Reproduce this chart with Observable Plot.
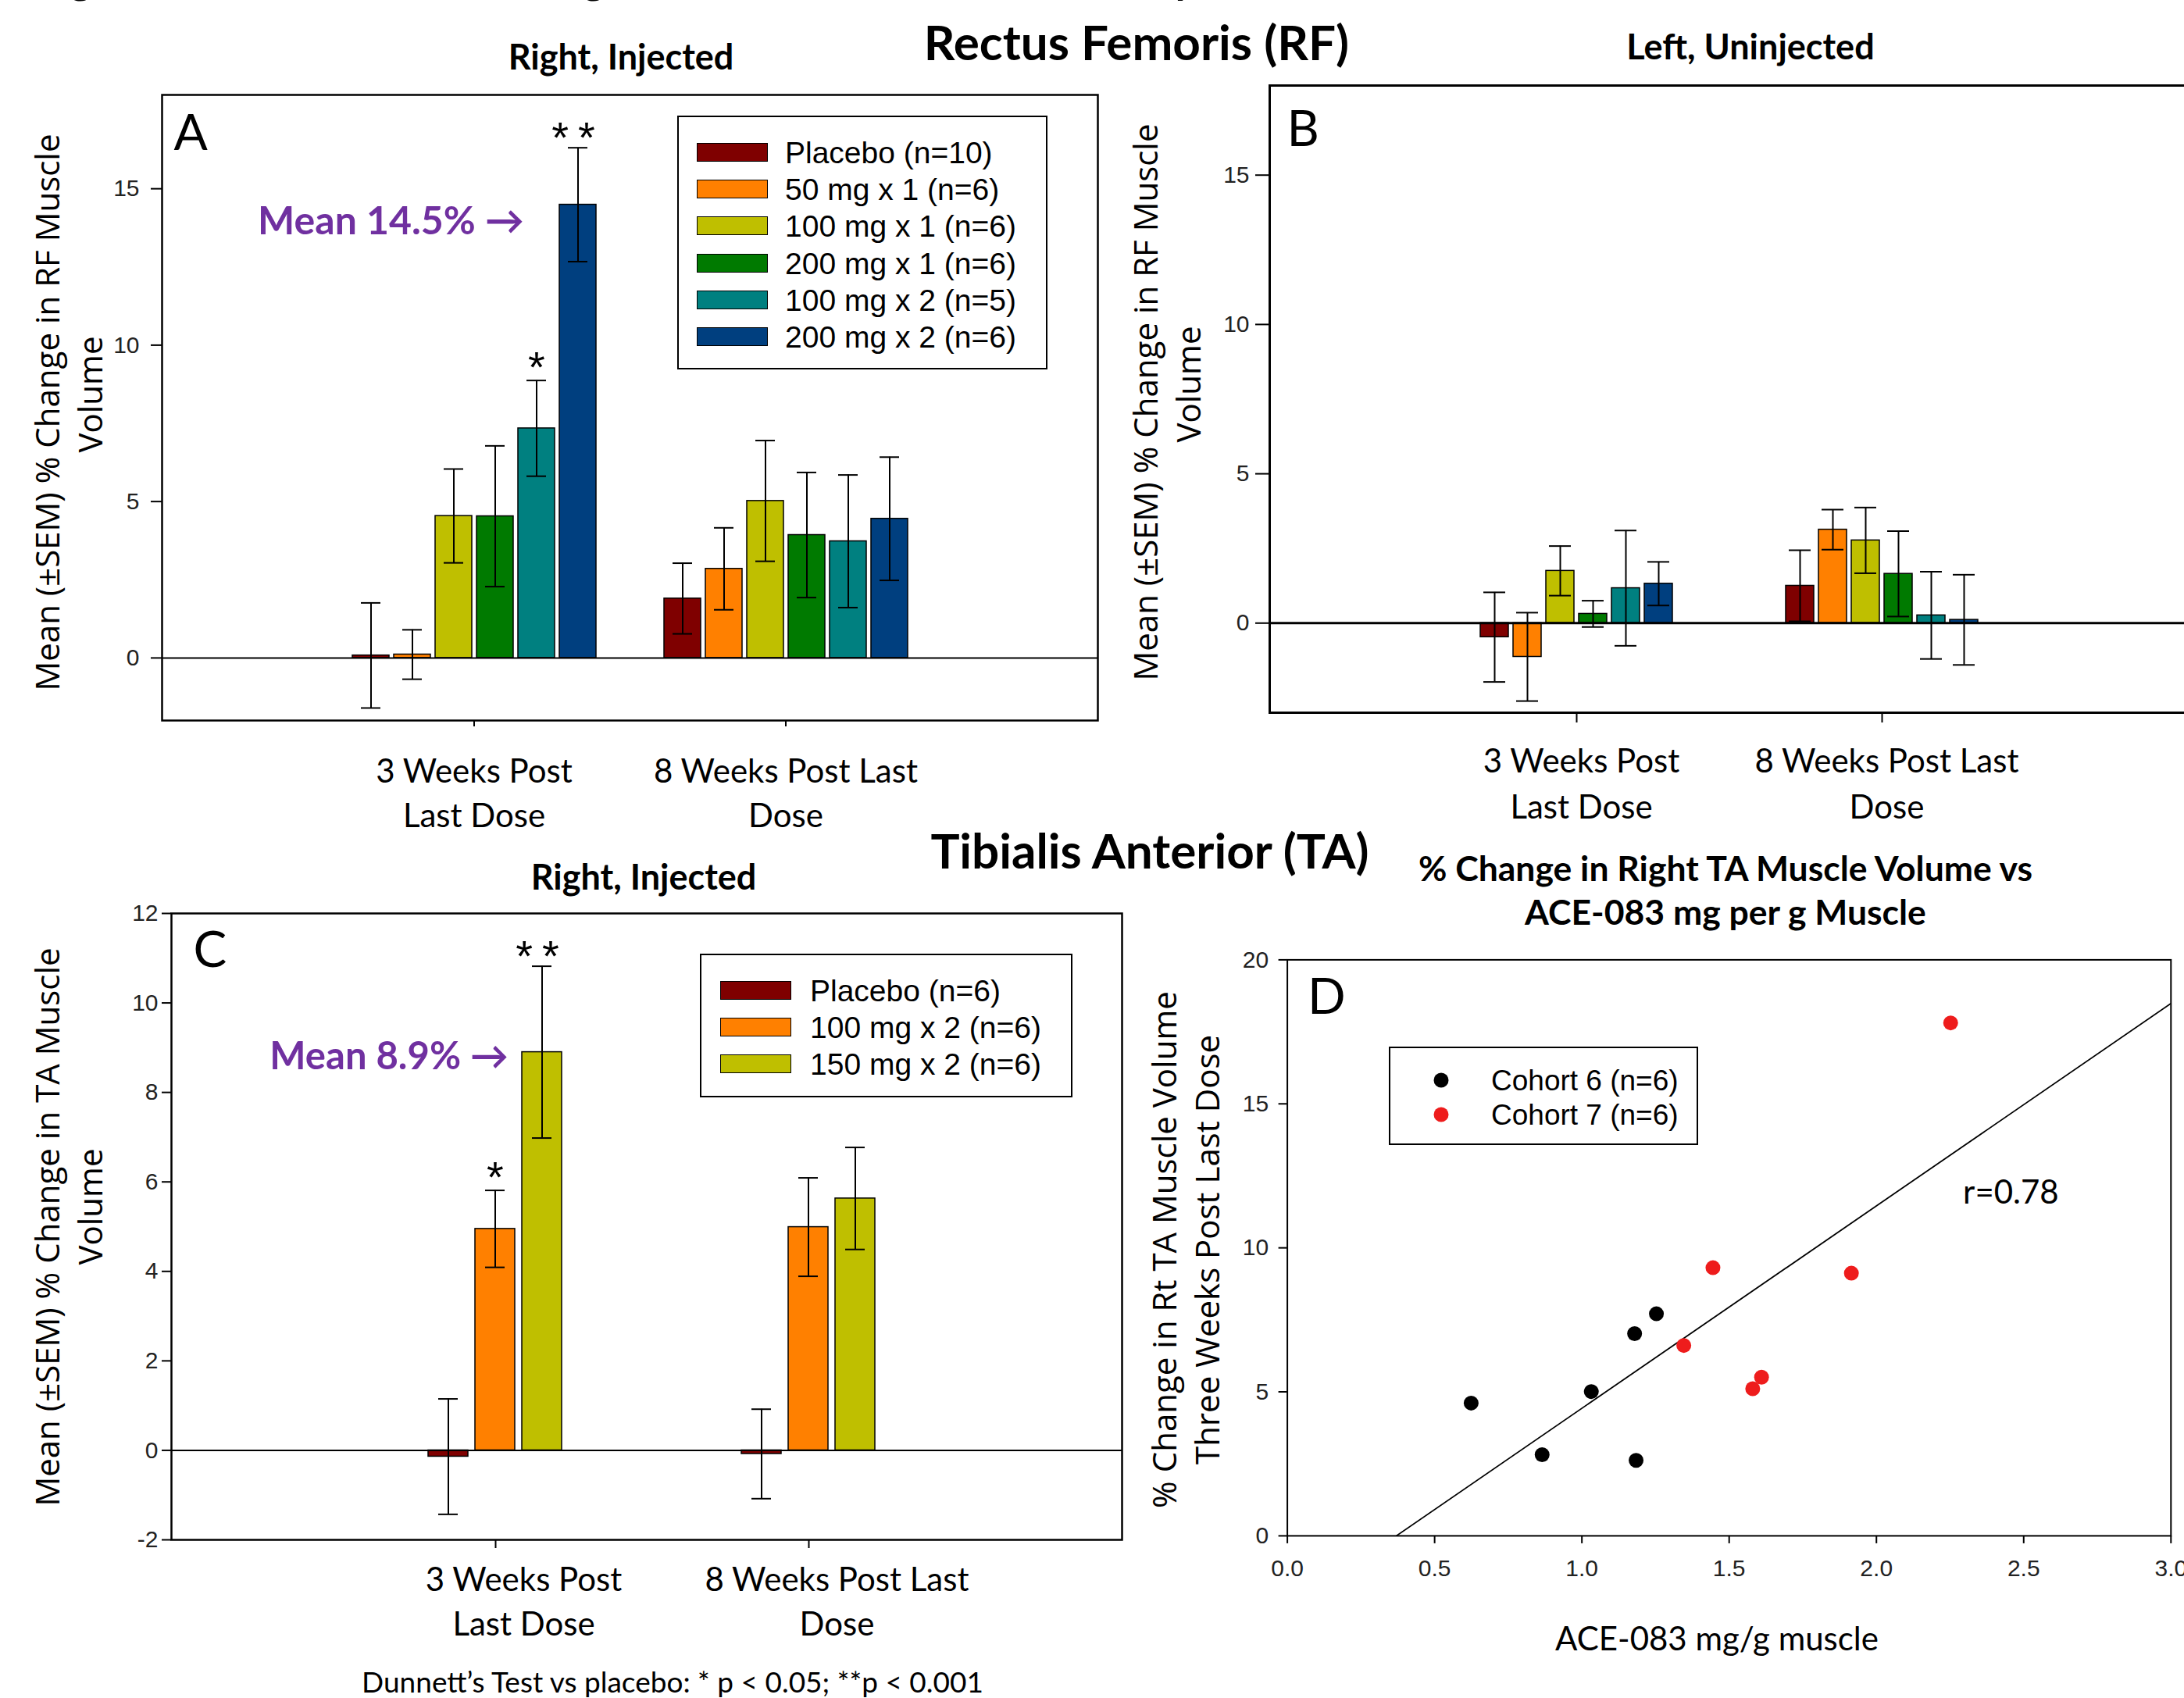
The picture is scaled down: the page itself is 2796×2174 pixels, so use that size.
<!DOCTYPE html>
<html>
<head>
<meta charset="utf-8">
<script src="https://cdn.jsdelivr.net/npm/d3@7"></script>
<script src="https://cdn.jsdelivr.net/npm/@observablehq/plot@0.6"></script>
<style>
  html, body { margin: 0; padding: 0; background: #fff; overflow: hidden; }
  #page { position: relative; width: 2796px; height: 2174px; overflow: hidden; background: #fff; }
  #page svg { position: absolute; left: 0; top: 0; }
  .t { position: absolute; transform: translate(-50%, -50%); white-space: nowrap; color: #000; line-height: 1; }
  .b { font-family: Lato, sans-serif; font-weight: 700; }
  .r { font-family: Lato, sans-serif; font-weight: 400; }
  .yt { position: absolute; transform: translate(-50%, -50%) rotate(-90deg); font-family: "Open Sans", sans-serif; font-size: 42px; line-height: 55px; white-space: nowrap; text-align: center; color: #000; }
  .legend { position: absolute; box-sizing: border-box; border: 2px solid #000; background: #fff; font-family: "Liberation Sans", Arial, sans-serif; color: #000; }
  .sw { position: absolute; box-sizing: border-box; border: 1.5px solid #000; transform: translateY(-50%); }
  .ldot { position: absolute; border-radius: 50%; transform: translate(-50%, -50%); }
  .lt { position: absolute; transform: translateY(-50%); white-space: nowrap; line-height: 1; }
</style>
</head>
<body>
<div id="page"></div>
<script>
// ================= DATA =================
const timepoints = ["3 Weeks Post\nLast Dose", "8 Weeks Post Last\nDose"];

// Rectus Femoris (panels A & B)
const rfSeries = ["Placebo (n=10)", "50 mg x 1 (n=6)", "100 mg x 1 (n=6)", "200 mg x 1 (n=6)", "100 mg x 2 (n=5)", "200 mg x 2 (n=6)"];
const rfColors = ["#7f0000", "#ff8000", "#bfbf00", "#007a00", "#008080", "#003f7f"];

const rfRightMean3wk = [0.08, 0.11, 4.54, 4.53, 7.34, 14.49];
const rfRightSem3wk  = [1.68, 0.79, 1.50, 2.25, 1.53, 1.82];
const rfRightMean8wk = [1.90, 2.85, 5.02, 3.93, 3.73, 4.45];
const rfRightSem8wk  = [1.13, 1.31, 1.93, 2.00, 2.12, 1.97];
const rfRightSig3wk  = ["", "", "", "", "*", "**"];
const rfRightSig8wk  = ["", "", "", "", "", ""];
const rfRightCallout = "Mean 14.5% →";

const rfLeftMean3wk = [-0.47, -1.13, 1.75, 0.31, 1.17, 1.32];
const rfLeftSem3wk  = [1.50, 1.48, 0.83, 0.44, 1.93, 0.73];
const rfLeftMean8wk = [1.25, 3.13, 2.77, 1.65, 0.26, 0.11];
const rfLeftSem8wk  = [1.19, 0.67, 1.10, 1.43, 1.46, 1.51];

// Tibialis Anterior (panel C)
const taSeries = ["Placebo (n=6)", "100 mg x 2 (n=6)", "150 mg x 2 (n=6)"];
const taColors = ["#7f0000", "#ff8000", "#bfbf00"];
const taMean3wk = [-0.14, 4.95, 8.90];
const taSem3wk  = [1.29, 0.86, 1.92];
const taMean8wk = [-0.08, 4.99, 5.63];
const taSem8wk  = [1.00, 1.10, 1.14];
const taSig3wk  = ["", "*", "**"];
const taSig8wk  = ["", "", ""];
const taCallout = "Mean 8.9% →";

// Panel D scatter
const cohortNames = ["Cohort 6 (n=6)", "Cohort 7 (n=6)"];
const cohortColors = ["#000000", "#ee1c1c"];
const cohort6X = [0.624, 0.865, 1.032, 1.179, 1.184, 1.253];
const cohort6Y = [4.61, 2.82, 5.01, 7.02, 2.62, 7.71];
const cohort7X = [1.346, 1.445, 1.580, 1.610, 1.915, 2.252];
const cohort7Y = [6.61, 9.31, 5.11, 5.51, 9.12, 17.81];
const dXTicks = [0, 0.5, 1.0, 1.5, 2.0, 2.5, 3.0];
const dYTicks = [0, 5, 10, 15, 20];
const rLabelText = "r=0.78";
const rLabelAt = {x: 2.294, y: 11.9};

// ================= HELPERS =================
const W = 2796, H = 2174;
const page = document.getElementById("page");
const svgStyle = "background: transparent; overflow: visible; max-width: none;";

function barRows(series, means, sems, sigs) {
  return timepoints.flatMap((t, ti) => series.map((s, si) => ({
    time: t, series: s, mean: means[ti][si], sem: sems[ti][si], sig: sigs ? sigs[ti][si] : ""
  })));
}
function marginsOf(c) {
  const w = c.svgWidth || W;
  return {width: w, height: H, marginLeft: c.left, marginTop: c.top, marginRight: w - c.right, marginBottom: H - c.bottom};
}

function barsPlot(c) {
  const callout = c.callout
    ? c.rows.filter(d => d.time === c.callout.time && d.series === c.callout.series).map(d => ({...d, label: c.callout.text}))
    : [];
  const sigOpts = (dy) => ({fx: "time", x: "series", y: d => d.mean + d.sem, text: "sig", dy, fontSize: 56,
    fontFamily: "Liberation Sans", lineAnchor: "middle", fill: "#000"});
  return Plot.plot({
    ...marginsOf(c),
    style: svgStyle,
    fx: {domain: timepoints, paddingInner: c.fxPi, paddingOuter: c.fxPo, align: c.fxAlign ?? 0.5, axis: null, label: null},
    x: {domain: c.series, paddingInner: c.xPi, paddingOuter: c.xPi / 2, axis: null, label: null},
    y: {domain: c.yDomain, axis: null},
    color: {domain: c.series, range: c.colors},
    marks: [
      Plot.barY(c.rows, {fx: "time", x: "series", y: "mean", fill: "series", stroke: "#000", strokeWidth: 1.5}),
      Plot.ruleX(c.rows, {fx: "time", x: "series", y1: d => d.mean - d.sem, y2: d => d.mean + d.sem, stroke: "#000", strokeWidth: 2}),
      Plot.tickY(c.rows, {fx: "time", x: "series", y: d => d.mean + d.sem, inset: c.capInset, stroke: "#000", strokeWidth: 2}),
      Plot.tickY(c.rows, {fx: "time", x: "series", y: d => d.mean - d.sem, inset: c.capInset, stroke: "#000", strokeWidth: 2}),
      Plot.text(c.rows.filter(d => d.sig === "*"), sigOpts(-16)),
      Plot.text(c.rows.filter(d => d.sig === "**"), sigOpts(-12)),
      Plot.text(callout, {fx: "time", x: "series", y: "mean", text: "label", textAnchor: "end", lineAnchor: "middle",
        dx: c.calloutDx, dy: c.calloutDy, fontSize: c.calloutSize, fontFamily: "Lato", fontWeight: 700, fill: "#7030a0"}),
      Plot.axisFx({anchor: "bottom", tickSize: c.xTickSize, tickFormat: () => "", stroke: "#000", strokeWidth: 2, label: null}),
      Plot.axisFx({anchor: "bottom", tickSize: 0, tickPadding: c.xLabelPad, dx: c.labelDx, fontSize: 42,
        fontFamily: "Lato", lineHeight: c.lineHeight, fill: "#000", label: null})
    ]
  });
}

function framePlot(c) {
  return Plot.plot({
    ...marginsOf(c),
    style: svgStyle,
    y: {domain: c.yDomain, axis: null},
    marks: [
      Plot.ruleY([0], {stroke: "#000", strokeWidth: c.zeroWidth}),
      Plot.frame({stroke: "#000", strokeWidth: c.frameWidth}),
      Plot.axisY({anchor: "left", ticks: c.yTicks, tickFormat: d => String(d), tickSize: c.yTickSize, tickPadding: c.yTickPad, fontSize: 30,
        fontFamily: "Liberation Sans", fill: "#222", stroke: "#000", strokeWidth: 2, label: null}),
      Plot.text([c.letter], {text: d => d, frameAnchor: "top-left", dx: c.letterDx, dy: c.letterDy, lineAnchor: "top",
        textAnchor: "start", fontSize: 64, fontFamily: "Lato", fill: "#000"})
    ]
  });
}

function spaceStars(svg) {
  d3.select(svg).selectAll("text").each(function () {
    if (this.textContent === "**") this.setAttribute("letter-spacing", "12");
  });
  return svg;
}

function addText(txt, cls, x, y, size, extra) {
  const el = document.createElement("div");
  el.className = "t " + cls;
  el.textContent = txt;
  el.style.left = x + "px"; el.style.top = y + "px"; el.style.fontSize = size + "px";
  if (extra) Object.assign(el.style, extra);
  page.appendChild(el);
}
function addYTitle(line1, line2, cx, cy, shift) {
  const el = document.createElement("div");
  el.className = "yt";
  el.style.left = cx + "px"; el.style.top = cy + "px";
  const a = document.createElement("div"); a.textContent = line1;
  const b = document.createElement("div"); b.textContent = line2;
  b.style.transform = "translateX(" + shift + "px)";
  el.appendChild(a); el.appendChild(b);
  page.appendChild(el);
}
function addLegend(box, names, colors, kind) {
  const el = document.createElement("div");
  el.className = "legend";
  Object.assign(el.style, {left: box.left + "px", top: box.top + "px", width: box.width + "px", height: box.height + "px"});
  names.forEach((n, i) => {
    const cy = box.rowTop + i * box.rowGap;
    const m = document.createElement("div");
    if (kind === "swatch") {
      m.className = "sw";
      Object.assign(m.style, {left: box.swLeft + "px", top: cy + "px", width: box.swW + "px", height: box.swH + "px", background: colors[i]});
    } else {
      m.className = "ldot";
      Object.assign(m.style, {left: box.swLeft + "px", top: cy + "px", width: box.swW + "px", height: box.swW + "px", background: colors[i]});
    }
    const t = document.createElement("div");
    t.className = "lt"; t.textContent = n;
    Object.assign(t.style, {left: box.textLeft + "px", top: cy + "px", fontSize: box.fontSize + "px"});
    el.appendChild(m); el.appendChild(t);
  });
  page.appendChild(el);
}

// ================= PANEL A =================
const cfgA = {
  left: 207, top: 121, right: 1405, bottom: 922,
  rows: barRows(rfSeries, [rfRightMean3wk, rfRightMean8wk], [rfRightSem3wk, rfRightSem8wk], [rfRightSig3wk, rfRightSig8wk]),
  series: rfSeries, colors: rfColors, yDomain: [-2, 18], yTicks: [0, 5, 10, 15],
  fxPi: 0.2, fxPo: 0.598, xPi: 0.115, capInset: 11, zeroWidth: 2, frameWidth: 2.5,
  yTickSize: 14, yTickPad: 15, xTickSize: 8, xLabelPad: 39, labelDx: 0, lineHeight: 1.36,
  letter: "A", letterDx: 15, letterDy: 25,
  callout: {time: timepoints[0], series: rfSeries[5], text: rfRightCallout}, calloutDx: -69, calloutDy: 22, calloutSize: 50
};
// ================= PANEL B =================
const cfgB = {
  left: 1625, top: 109, right: 2801, bottom: 912, svgWidth: 2810,
  rows: barRows(rfSeries, [rfLeftMean3wk, rfLeftMean8wk], [rfLeftSem3wk, rfLeftSem8wk], null),
  series: rfSeries, colors: rfColors, yDomain: [-3, 18], yTicks: [0, 5, 10, 15],
  fxPi: 0.351, fxPo: 0.6775, xPi: 0.15, capInset: 4, zeroWidth: 3, frameWidth: 3,
  yTickSize: 18, yTickPad: 8, xTickSize: 13, xLabelPad: 35, labelDx: 6, lineHeight: 1.4,
  letter: "B", letterDx: 22, letterDy: 32
};
// ================= PANEL C =================
const cfgC = {
  left: 219, top: 1169, right: 1436, bottom: 1971,
  rows: barRows(taSeries, [taMean3wk, taMean8wk], [taSem3wk, taSem8wk], [taSig3wk, taSig8wk]),
  series: taSeries, colors: taColors, yDomain: [-2, 12], yTicks: [-2, 0, 2, 4, 6, 8, 10, 12],
  fxPi: 0.547, fxPo: 0.789, fxAlign: 0.51, xPi: 0.144, capInset: 13, zeroWidth: 2, frameWidth: 2.5,
  yTickSize: 12, yTickPad: 5, xTickSize: 11, xLabelPad: 25, labelDx: 36, lineHeight: 1.36,
  letter: "C", letterDx: 28, letterDy: 23,
  callout: {time: timepoints[0], series: taSeries[2], text: taCallout}, calloutDx: -43, calloutDy: 6, calloutSize: 49
};

for (const c of [cfgA, cfgB, cfgC]) {
  page.appendChild(spaceStars(barsPlot(c)));
  page.appendChild(framePlot(c));
}

// ================= PANEL D =================
const pts = [
  ...cohort6X.map((x, i) => ({x, y: cohort6Y[i], cohort: cohortNames[0]})),
  ...cohort7X.map((x, i) => ({x, y: cohort7Y[i], cohort: cohortNames[1]}))
];
const mx = d3.mean(pts, d => d.x), my = d3.mean(pts, d => d.y);
const slope = d3.sum(pts, d => (d.x - mx) * (d.y - my)) / d3.sum(pts, d => (d.x - mx) ** 2);
const intercept = my - slope * mx;
const xEnd = dXTicks[dXTicks.length - 1];
const regLine = [{x: -intercept / slope, y: 0}, {x: xEnd, y: intercept + slope * xEnd}];

const cfgD = {left: 1647.6, top: 1228.4, right: 2778.8, bottom: 1965.9};
page.appendChild(Plot.plot({
  ...marginsOf(cfgD),
  style: svgStyle,
  x: {domain: [dXTicks[0], xEnd], axis: null},
  y: {domain: [dYTicks[0], dYTicks[dYTicks.length - 1]], axis: null},
  color: {domain: cohortNames, range: cohortColors},
  marks: [
    Plot.frame({stroke: "#000", strokeWidth: 2}),
    Plot.axisX({anchor: "bottom", ticks: dXTicks, tickFormat: d3.format(".1f"), tickSize: 10, tickPadding: 20, fontSize: 30,
      fontFamily: "Liberation Sans", fill: "#222", stroke: "#000", strokeWidth: 2, label: null}),
    Plot.axisY({anchor: "left", ticks: dYTicks, tickFormat: d => String(d), tickSize: 11, tickPadding: 13, fontSize: 30,
      fontFamily: "Liberation Sans", fill: "#222", stroke: "#000", strokeWidth: 2, label: null}),
    Plot.line(regLine, {x: "x", y: "y", stroke: "#000", strokeWidth: 1.8, clip: true}),
    Plot.dot(pts, {x: "x", y: "y", fill: "cohort", r: 9.5}),
    Plot.text([rLabelText], {x: () => rLabelAt.x, y: () => rLabelAt.y, text: d => d, textAnchor: "start", lineAnchor: "middle",
      fontSize: 42, fontFamily: "Lato", fill: "#000"}),
    Plot.text(["D"], {text: d => d, frameAnchor: "top-left", dx: 26, dy: 24, lineAnchor: "top", textAnchor: "start",
      fontSize: 64, fontFamily: "Lato", fill: "#000"})
  ]
}));

// ================= LEGENDS =================
addLegend({left: 867, top: 148, width: 474, height: 325, rowTop: 45, rowGap: 47.2, swLeft: 23, swW: 91, swH: 24, textLeft: 136, fontSize: 39},
  rfSeries, rfColors, "swatch");
addLegend({left: 896, top: 1221, width: 477, height: 184, rowTop: 45, rowGap: 47.2, swLeft: 24, swW: 91, swH: 24, textLeft: 139, fontSize: 39},
  taSeries, taColors, "swatch");
addLegend({left: 1778, top: 1340, width: 396, height: 126, rowTop: 41, rowGap: 43.5, swLeft: 65, swW: 19, textLeft: 129, fontSize: 37},
  cohortNames, cohortColors, "dot");

// ================= TITLES & LABELS =================
addText("Significant Increases in the Right RF and TA Muscle Volume by ACE-083", "b", 46, -55, 54, {transform: "none"});
addText("Rectus Femoris (RF)", "b", 1455, 53, 62);
addText("Right, Injected", "b", 795, 72, 45);
addText("Left, Uninjected", "b", 2241, 59, 45);
addText("Tibialis Anterior (TA)", "b", 1472, 1088, 62);
addText("Right, Injected", "b", 824, 1122, 45);
addText("% Change in Right TA Muscle Volume vs", "b", 2209, 1111, 44.5);
addText("ACE-083 mg per g Muscle", "b", 2209, 1167, 44.5);
addText("ACE-083 mg/g muscle", "r", 2198, 2097, 42);
addText("Dunnett’s Test vs placebo: * p < 0.05; **p < 0.001", "r", 861, 2152, 37);

addYTitle("Mean (±SEM) % Change in RF Muscle", "Volume", 86.5, 528, 23);
addYTitle("Mean (±SEM) % Change in RF Muscle", "Volume", 1492.5, 515, 23);
addYTitle("Mean (±SEM) % Change in TA Muscle", "Volume", 86.5, 1571, 26);
addYTitle("% Change in Rt TA Muscle Volume", "Three Weeks Post Last Dose", 1516.5, 1600, 0);
</script>
</body>
</html>
